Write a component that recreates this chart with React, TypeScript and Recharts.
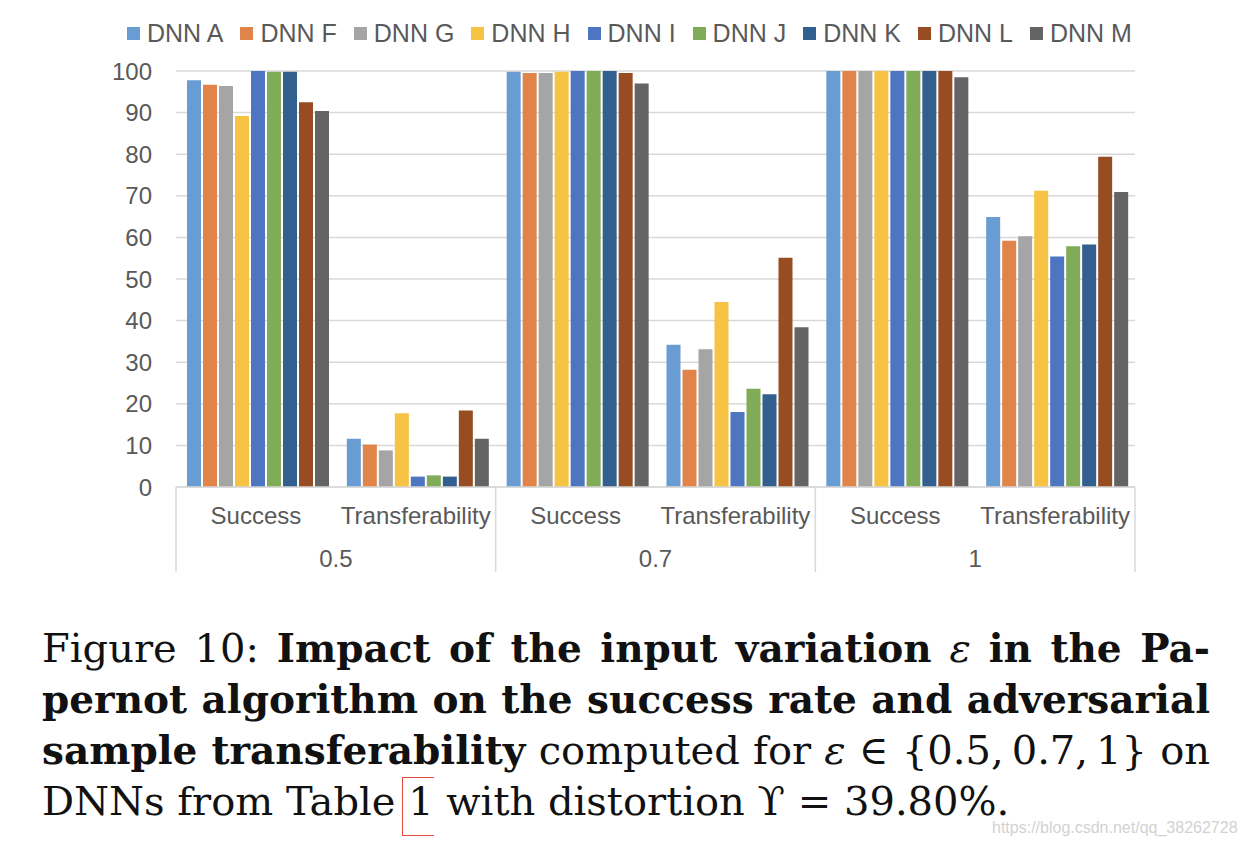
import React from "react";
import { BarChart, Bar, XAxis, YAxis, CartesianGrid } from "recharts";

// x-axis: two levels (metric inside epsilon group)
const categories = ["Success", "Transferability", "Success", "Transferability", "Success", "Transferability"];
const groups = ["0.5", "0.5", "0.7", "0.7", "1", "1"];
const yTicks = [0, 10, 20, 30, 40, 50, 60, 70, 80, 90, 100];

const seriesNames = ["DNN A", "DNN F", "DNN G", "DNN H", "DNN I", "DNN J", "DNN K", "DNN L", "DNN M"];
const seriesColors = ["#689CD3", "#E1844A", "#A5A5A5", "#F6C344", "#4E75BF", "#80AB57", "#335F8F", "#974C21", "#646464"];

const dnnA = [97.8, 11.6, 99.8, 34.2, 100, 64.9];
const dnnF = [96.7, 10.2, 99.5, 28.2, 100, 59.2];
const dnnG = [96.4, 8.8, 99.5, 33.1, 100, 60.3];
const dnnH = [89.2, 17.7, 99.8, 44.5, 100, 71.2];
const dnnI = [100, 2.5, 100, 18.0, 100, 55.4];
const dnnJ = [99.8, 2.8, 100, 23.6, 100, 57.9];
const dnnK = [99.8, 2.5, 100, 22.3, 100, 58.3];
const dnnL = [92.5, 18.4, 99.5, 55.1, 100, 79.4];
const dnnM = [90.4, 11.6, 97.0, 38.4, 98.5, 70.9];

const seriesValues = [dnnA, dnnF, dnnG, dnnH, dnnI, dnnJ, dnnK, dnnL, dnnM];

const data = categories.map((cat, i) => {
  const row: Record<string, string | number> = { cat, group: groups[i] };
  seriesNames.forEach((name, s) => {
    row[name] = seriesValues[s][i];
  });
  return row;
});

const CHART_W = 1244;
const CHART_H = 600;
const MARGIN = { top: 71, right: 109, bottom: 13, left: 136 };
const Y_W = 40;
const BAND = (CHART_W - MARGIN.left - MARGIN.right - Y_W) / categories.length;

const axisFont = "'Liberation Sans', Arial, sans-serif";
const textGrey = "#595959";
const lineGrey = "#d9d9d9";

function CategoryTick(props: any) {
  const { x, y, payload } = props;
  const i = payload.index;
  const half = BAND / 2;
  return (
    <g>
      <text x={x} y={y + 28} textAnchor="middle" dominantBaseline="central" fill={textGrey} fontSize={24} fontFamily={axisFont}>
        {payload.value}
      </text>
      {i % 2 === 0 && (
        <>
          <line x1={x - half} x2={x - half} y1={y} y2={y + 85} stroke={lineGrey} strokeWidth={1.5} />
          <text x={x + half} y={y + 71} textAnchor="middle" dominantBaseline="central" fill={textGrey} fontSize={24} fontFamily={axisFont}>
            {groups[i]}
          </text>
        </>
      )}
      {i === categories.length - 1 && (
        <line x1={x + half} x2={x + half} y1={y} y2={y + 85} stroke={lineGrey} strokeWidth={1.5} />
      )}
    </g>
  );
}

function ChartLegend() {
  return (
    <div
      style={{
        position: "absolute",
        left: 127,
        top: 18,
        display: "flex",
        gap: 17,
        fontFamily: axisFont,
        fontSize: 25,
        color: textGrey,
        lineHeight: "30px",
        whiteSpace: "nowrap",
      }}
    >
      {seriesNames.map((name, i) => (
        <div key={name} style={{ display: "flex", alignItems: "center", gap: 7 }}>
          <span style={{ width: 13, height: 13, background: seriesColors[i], display: "inline-block" }} />
          <span>{name}</span>
        </div>
      ))}
    </div>
  );
}

const capFont = "'DejaVu Serif', serif";
const lineStyle: React.CSSProperties = {
  width: 1168,
  height: 51,
  whiteSpace: "nowrap",
  textAlign: "justify",
  textAlignLast: "justify",
};
const bold: React.CSSProperties = { fontWeight: 700, fontSize: 39 };

function Caption() {
  return (
    <div
      style={{
        position: "absolute",
        left: 42,
        top: 623,
        fontFamily: capFont,
        fontSize: 40,
        lineHeight: "51px",
        color: "#111",
      }}
    >
      <div style={lineStyle}>
        Figure 10: <span style={bold}>Impact of the input variation</span> <i>ε</i> <span style={bold}>in the Pa-</span>
      </div>
      <div style={lineStyle}>
        <span style={bold}>pernot algorithm on the success rate and adversarial</span>
      </div>
      <div style={{ ...lineStyle, wordSpacing: -4 }}>
        <span style={bold}>sample transferability</span> computed for <i>ε</i> ∈ {"{0.5,\u20090.7,\u20091}"} on
      </div>
      <div style={{ ...lineStyle, textAlign: "left", textAlignLast: "left" }}>
        DNNs from Table{" "}
        <span style={{ position: "relative" }}>
          1
          <span
            style={{
              position: "absolute",
              left: -6,
              top: -1,
              width: 31,
              height: 57,
              borderLeft: "1.5px solid #e5483d",
              borderTop: "1.5px solid #e5483d",
              borderBottom: "1.5px solid #e5483d",
            }}
          />
        </span>{" "}
        with distortion ϒ = 39.80%.
      </div>
    </div>
  );
}

export default function App() {
  return (
    <div style={{ position: "absolute", left: 0, top: 0, width: 1244, height: 848, background: "#fff", overflow: "hidden" }}>
      <ChartLegend />
      <div style={{ position: "absolute", left: 0, top: 0 }}>
        <BarChart width={CHART_W} height={CHART_H} data={data} margin={MARGIN} barGap={2} barCategoryGap={11}>
          <CartesianGrid vertical={false} stroke={lineGrey} strokeWidth={1.5} />
          <XAxis
            dataKey="cat"
            interval={0}
            height={100}
            tickLine={false}
            tickSize={0}
            tickMargin={0}
            axisLine={{ stroke: lineGrey, strokeWidth: 1.5 }}
            tick={<CategoryTick />}
          />
          <YAxis
            width={Y_W}
            domain={[0, 100]}
            ticks={yTicks}
            axisLine={false}
            tickLine={false}
            tickMargin={18}
            tick={{ fill: textGrey, fontSize: 24, fontFamily: axisFont }}
          />
          {seriesNames.map((name, i) => (
            <Bar key={name} dataKey={name} fill={seriesColors[i]} isAnimationActive={false} />
          ))}
        </BarChart>
      </div>
      <Caption />
      <div
        style={{
          position: "absolute",
          left: 992,
          top: 818,
          fontFamily: axisFont,
          fontSize: 16,
          lineHeight: "20px",
          color: "#d2d2d2",
        }}
      >
        https://blog.csdn.net/qq_38262728
      </div>
    </div>
  );
}
